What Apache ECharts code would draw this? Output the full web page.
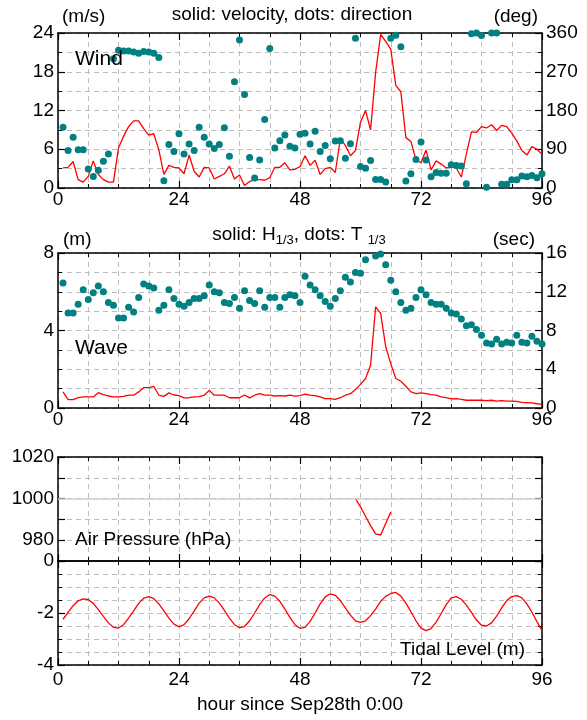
<!DOCTYPE html>
<html><head><meta charset="utf-8">
<script src="https://cdn.jsdelivr.net/npm/echarts@6/dist/echarts.min.js"></script>
<style>html,body{margin:0;padding:0;background:#fff}#c{width:587px;height:720px}</style>
</head><body><div id="c"></div>
<script>
const hours = [1,2,3,4,5,6,7,8,9,10,11,12,13,14,15,16,17,18,19,20,21,22,23,24,
  25,26,27,28,29,30,31,32,33,34,35,36,37,38,39,40,41,42,43,44,45,46,47,48,
  49,50,51,52,53,54,55,56,57,58,59,60,61,62,63,64,65,66,67,68,69,70,71,72,
  73,74,75,76,77,78,79,80,81,82,83,84,85,86,87,88,89,90,91,92,93,94,95,96];
const windSpeed = [3.1,3.2,4.1,1.3,0.9,1.8,4.2,2.1,1.3,0.9,0.9,6.2,8.0,9.5,10.4,10.4,9.2,8.2,8.4,5.9,2.1,3.5,3.2,3.1,
  2.2,5.1,2.6,1.7,3.2,3.1,1.4,1.8,2.2,3.4,1.4,2.0,0.4,1.0,1.3,1.3,1.2,1.6,3.2,3.2,3.9,2.8,2.9,3.3,
  5.0,3.5,4.3,2.1,3.0,3.2,2.4,7.6,6.6,5.0,5.8,10.2,12.0,9.0,17.9,23.8,22.7,21.5,15.9,14.9,7.8,7.2,4.4,3.9,
  5.9,2.8,4.2,3.7,3.1,3.3,3.1,1.7,5.3,8.7,8.6,9.5,9.3,9.8,8.9,9.7,9.5,8.5,7.3,5.8,5.1,6.4,6.0,5.2];
const windDir = [141,87,118,89,89,44,27,41,62,79,300,320,318,318,316,313,317,316,313,303,17,101,85,126,
  79,102,87,141,118,102,92,101,140,74,247,344,217,71,23,65,159,324,93,110,123,97,93,125,
  127,102,132,85,99,68,109,110,69,103,348,50,46,64,20,20,14,348,355,328,16,33,66,107,
  65,26,36,34,34,54,52,51,10,358,360,354,2,360,360,9,9,19,19,28,26,29,24,33];
const waveH = [0.83,0.43,0.43,0.53,0.57,0.57,0.57,0.79,0.69,0.62,0.57,0.57,0.60,0.66,0.66,0.83,1.05,1.05,1.12,0.66,0.60,0.78,0.67,0.64,
  0.52,0.53,0.57,0.59,0.66,0.91,0.66,0.66,0.66,0.53,0.53,0.53,0.67,0.52,0.66,0.74,0.66,0.66,0.62,0.64,0.62,0.67,0.61,0.64,
  0.71,0.66,0.64,0.57,0.48,0.48,0.45,0.53,0.66,0.74,0.95,1.22,1.52,2.21,5.22,4.88,3.16,2.29,1.52,1.38,1.12,0.83,0.74,0.78,
  0.74,0.69,0.66,0.57,0.53,0.47,0.48,0.45,0.40,0.40,0.41,0.40,0.38,0.40,0.36,0.38,0.36,0.36,0.34,0.29,0.28,0.26,0.22,0.19];
const waveT = [12.9,9.8,9.8,10.7,12.2,11.2,11.9,12.6,12.0,10.9,10.6,9.3,9.3,10.4,9.9,11.4,12.8,12.6,12.4,10.1,10.6,12.2,11.3,10.7,
  10.5,10.9,11.3,11.3,11.6,12.7,12.0,11.9,10.9,10.8,11.4,10.3,12.1,11.1,10.8,12.1,10.4,11.4,11.4,10.4,11.4,11.7,11.6,10.9,
  13.6,12.7,12.2,11.6,11.0,10.5,11.3,12.1,13.5,13.0,14.0,13.9,15.3,null,15.7,15.9,14.8,13.2,12.0,10.9,10.1,10.3,11.4,12.2,
  11.7,10.9,10.7,10.7,10.3,9.8,9.7,9.2,8.5,8.6,8.1,7.5,6.7,6.6,7.1,6.6,6.8,6.7,7.5,6.8,6.7,7.4,6.9,6.6];
const pressureHours = [59,60,61,62,63,64,65,66];
const pressure = [1000,996,991.5,987,983,982.5,988,993.5];
const tide = [-2.24,-1.98,-1.72,-1.53,-1.46,-1.48,-1.63,-1.87,-2.13,-2.38,-2.55,-2.58,-2.45,-2.20,-1.92,-1.63,-1.43,-1.37,-1.45,-1.65,-1.92,-2.20,-2.43,-2.53,
  -2.45,-2.22,-1.93,-1.62,-1.42,-1.35,-1.42,-1.62,-1.90,-2.20,-2.45,-2.56,-2.52,-2.30,-2.00,-1.68,-1.42,-1.29,-1.35,-1.55,-1.85,-2.17,-2.45,-2.59,
  -2.55,-2.32,-2.00,-1.65,-1.38,-1.26,-1.32,-1.52,-1.80,-2.08,-2.30,-2.36,-2.30,-2.10,-1.85,-1.55,-1.36,-1.25,-1.21,-1.35,-1.62,-1.95,-2.30,-2.58,
  -2.68,-2.60,-2.35,-2.02,-1.68,-1.42,-1.37,-1.47,-1.70,-1.98,-2.27,-2.47,-2.50,-2.38,-2.12,-1.80,-1.52,-1.37,-1.33,-1.42,-1.65,-1.97,-2.33,-2.68];
const xTickLabels = ['0','24','48','72','96'];

const FONT = 'Liberation Sans, Arial, sans-serif';
const RED = '#ff0000', TEAL = '#008080';
const GRIDC = '#bdbdbd';
const pairs = (xs, ys) => xs.map((x, i) => [x, ys[i]]);

const grids = [
  {left: 58, right: 45, top: 33, height: 155},
  {left: 58, right: 45, top: 253, height: 155},
  {left: 58, right: 45, top: 457, height: 104},
  {left: 58, right: 45, top: 561, height: 104}
];
const dash = {color: GRIDC, type: [5, 4], width: 1};
function xAxes(g, showLabels, margin) {
  return [{
    type: 'value', gridIndex: g, position: 'bottom', min: 0, max: 96, interval: 24,
    axisLine: {show: true, onZero: false, lineStyle: {color: '#000', width: 1.5}},
    axisTick: {show: true, inside: true, length: 7, lineStyle: {color: '#000', width: 1.2}},
    minorTick: {show: true, splitNumber: 4, length: 4, lineStyle: {color: '#000', width: 1}},
    axisLabel: {show: showLabels, margin: margin, color: '#000', fontSize: 19, fontFamily: FONT,
      formatter: v => xTickLabels[xTickLabels.indexOf(String(v))] || ''},
    splitLine: {show: true, lineStyle: dash},
    minorSplitLine: {show: true, lineStyle: dash}
  }, {
    type: 'value', gridIndex: g, position: 'top', min: 0, max: 96, interval: 24,
    axisLine: {show: true, onZero: false, lineStyle: {color: '#000', width: 1.5}},
    axisTick: {show: true, inside: true, length: 7, lineStyle: {color: '#000', width: 1.2}},
    minorTick: {show: true, splitNumber: 4, length: 4, lineStyle: {color: '#000', width: 1}},
    axisLabel: {show: false}, splitLine: {show: false}
  }];
}
function yAxis(g, pos, min, max, interval, minorSplit, opts) {
  const o = Object.assign({
    type: 'value', gridIndex: g, position: pos, min: min, max: max, interval: interval,
    axisLine: {show: true, onZero: false, lineStyle: {color: '#000', width: 1.5}},
    axisTick: {show: true, inside: true, length: 7, lineStyle: {color: '#000', width: 1.2}},
    minorTick: {show: minorSplit > 1, splitNumber: minorSplit, length: 4, lineStyle: {color: '#000', width: 1}},
    axisLabel: {show: true, margin: 4, color: '#000', fontSize: 19, fontFamily: FONT},
    splitLine: {show: pos === 'left', lineStyle: dash},
    minorSplitLine: {show: pos === 'left' && minorSplit > 1, lineStyle: dash}
  }, opts || {});
  return o;
}

const xs = [].concat(xAxes(0, true, 2), xAxes(1, true, 2), xAxes(2, false, 2), xAxes(3, true, 5));
const ys = [
  yAxis(0, 'left', 0, 24, 6, 2),
  yAxis(0, 'right', 0, 360, 90, 2),
  yAxis(1, 'left', 0, 8, 4, 4),
  yAxis(1, 'right', 0, 16, 4, 2),
  yAxis(2, 'left', 970, 1020, 10, 1, {axisLabel: {show: true, margin: 4, color: '#000', fontSize: 19, fontFamily: FONT,
    formatter: v => (v === 980 || v === 1000 || v === 1020) ? String(v) : ''}}),
  yAxis(2, 'right', 970, 1020, 10, 1, {axisLabel: {show: false}}),
  yAxis(3, 'left', -4, 0, 2, 4),
  yAxis(3, 'right', -4, 0, 2, 4, {axisLabel: {show: false}})
];

const lineS = (xi, yi, data, extra) => Object.assign({
  type: 'line', xAxisIndex: xi, yAxisIndex: yi, data: data, showSymbol: false, symbol: 'none',
  lineStyle: {color: RED, width: 1.3}, itemStyle: {color: RED}, animation: false, z: 3
}, extra || {});
const dotS = (xi, yi, data) => ({
  type: 'scatter', xAxisIndex: xi, yAxisIndex: yi, data: data, symbolSize: 7, clip: false,
  itemStyle: {color: TEAL, opacity: 1}, animation: false, z: 4
});

const txt = (x, y, text, size, align, extra) => ({
  type: 'text', x: x, y: y, z: 100,
  style: Object.assign({text: text, fill: '#000', font: size + 'px ' + FONT, align: align || 'left', verticalAlign: 'middle'}, extra || {})
});

const option = {
  animation: false,
  backgroundColor: '#fff',
  grid: grids,
  xAxis: xs,
  yAxis: ys,
  series: [
    lineS(0, 0, pairs(hours, windSpeed)),
    dotS(0, 1, pairs(hours, windDir)),
    lineS(2, 2, pairs(hours, waveH)),
    dotS(2, 3, pairs(hours, waveT)),
    lineS(4, 4, pairs(pressureHours, pressure), {
      markLine: {silent: true, symbol: 'none', label: {show: false}, animation: false,
        lineStyle: {color: '#cfcfcf', type: 'solid', width: 1.6}, data: [{yAxis: 1000}]}, z: 3}),
    lineS(6, 6, pairs(hours, tide))
  ],
  graphic: [
    txt(62, 17, '(m/s)', 19),
    txt(292, 15, 'solid: velocity, dots: direction', 19, 'center'),
    txt(538, 17, '(deg)', 19, 'right'),
    txt(75, 59, 'Wind', 21),
    txt(63, 240, '(m)', 19),
    {type: 'text', x: 299, y: 238, z: 100, style: {
      text: '{n|solid: H}{s|1/3}{n|, dots: T }{s|1/3}', align: 'center', verticalAlign: 'middle',
      font: '19px ' + FONT, fill: '#000',
      rich: {
        n: {fontSize: 19, fontFamily: FONT, lineHeight: 26, verticalAlign: 'top', padding: [0, 0, 0, 0], fill: '#000'},
        s: {fontSize: 13, fontFamily: FONT, lineHeight: 26, verticalAlign: 'top', padding: [9, 0, 0, 0], fill: '#000'}
      }}},
    txt(535, 240, '(sec)', 19, 'right'),
    txt(75, 348, 'Wave', 21),
    txt(75, 540, 'Air Pressure (hPa)', 19),
    txt(525, 650, 'Tidal Level (m)', 19, 'right'),
    txt(300, 705, 'hour since Sep28th 0:00', 19, 'center')
  ]
};
const chart = echarts.init(document.getElementById('c'), null, {renderer: 'canvas'});
chart.setOption(option);
</script></body></html>
